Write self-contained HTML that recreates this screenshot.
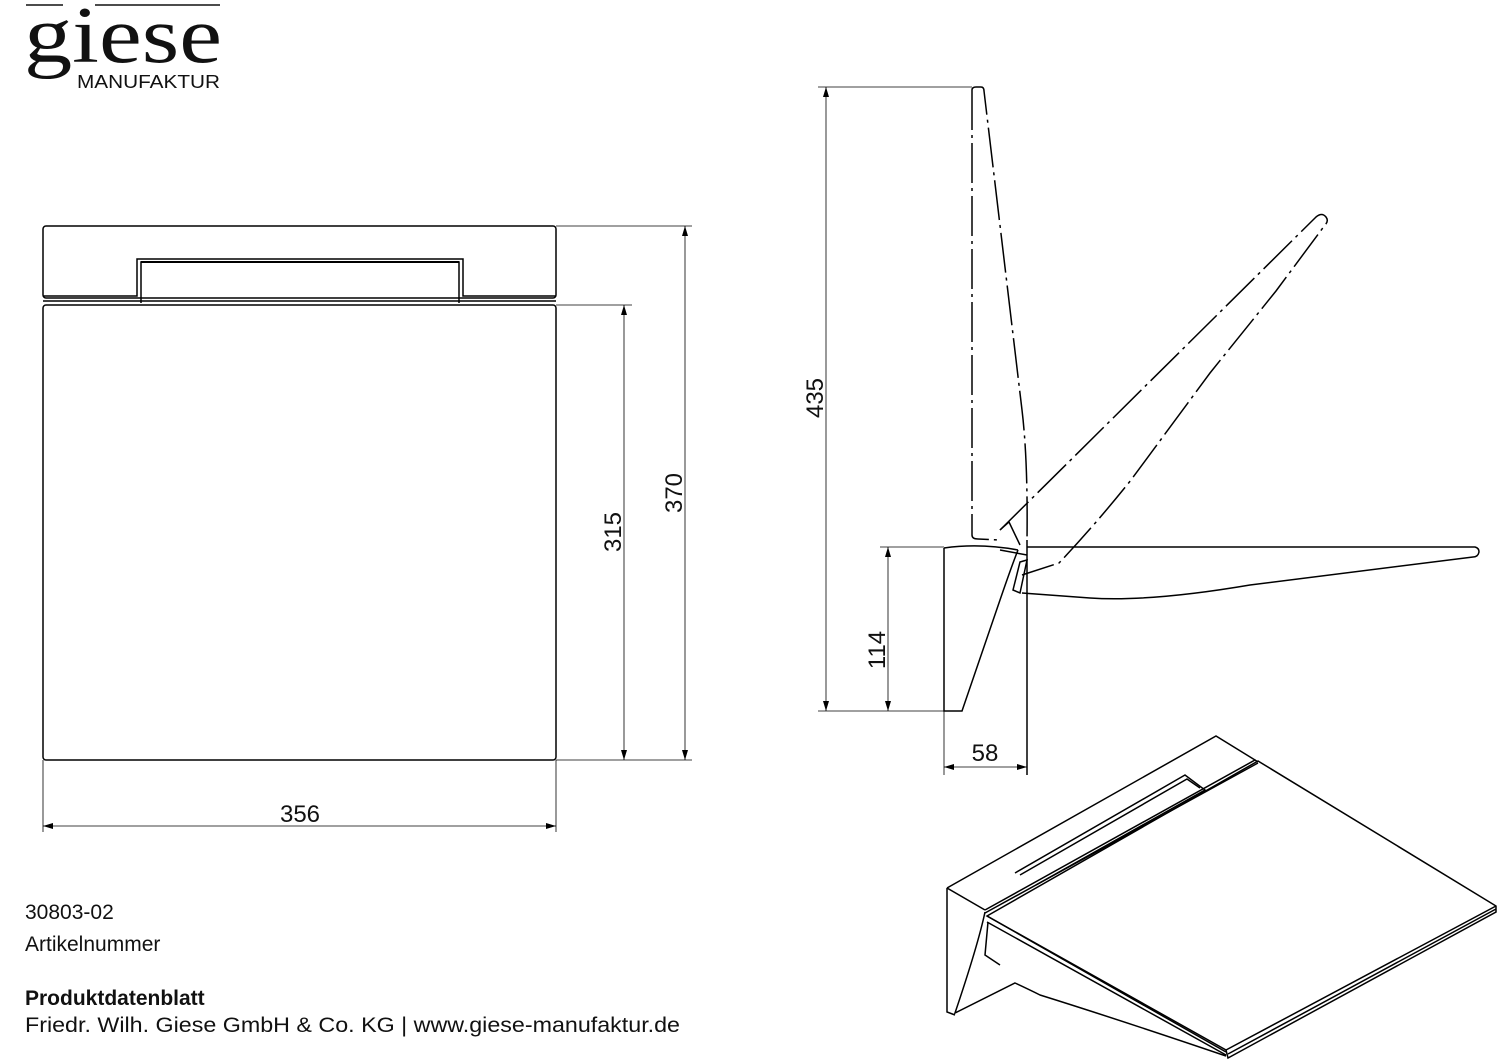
<!DOCTYPE html>
<html><head><meta charset="utf-8"><style>
html,body{margin:0;padding:0;background:#fff;}
svg{display:block;}
text{font-family:"Liberation Sans",sans-serif;fill:#111;}
</style></head><body>
<svg width="1500" height="1061" viewBox="0 0 1500 1061" xmlns="http://www.w3.org/2000/svg">
<defs>
<marker id="a" viewBox="0 0 10 6" refX="10" refY="3" markerWidth="10" markerHeight="6" orient="auto-start-reverse" markerUnits="userSpaceOnUse"><path d="M0,0 L10,3 L0,6 z" fill="#000"/></marker>
</defs>
<!-- logo -->
<line x1="26" y1="5" x2="63" y2="5" stroke="#111" stroke-width="1.5"/>
<line x1="95" y1="5" x2="220" y2="5" stroke="#111" stroke-width="1.5"/>
<text x="24" y="62" style="font-family:'Liberation Serif',serif;font-size:80px;" textLength="198" lengthAdjust="spacingAndGlyphs">giese</text>
<text x="77" y="88" style="font-family:'Liberation Sans',sans-serif;font-size:18px;" textLength="143" lengthAdjust="spacingAndGlyphs">MANUFAKTUR</text>

<g fill="none" stroke="#000" stroke-width="1.5">
<rect x="43" y="226" width="513" height="72" rx="3"/>
<rect x="43" y="305" width="513" height="455" rx="3"/>
<line x1="43" y1="301" x2="556" y2="301"/>
<path d="M43,296 H137 V259 H463 V296 H556"/>
<path d="M141,303 V262 H459 V303"/>
<line x1="141" y1="262" x2="459" y2="262" stroke-width="2"/>
<line x1="556" y1="226" x2="692" y2="226" stroke-width="0.8"/>
<line x1="556" y1="760" x2="692" y2="760" stroke-width="0.8"/>
<line x1="556" y1="305" x2="632" y2="305" stroke-width="0.8"/>
<line x1="685" y1="226" x2="685" y2="760" stroke-width="0.8" marker-start="url(#a)" marker-end="url(#a)"/>
<line x1="624" y1="305" x2="624" y2="760" stroke-width="0.8" marker-start="url(#a)" marker-end="url(#a)"/>
<line x1="43" y1="760" x2="43" y2="832" stroke-width="0.8"/>
<line x1="556" y1="760" x2="556" y2="832" stroke-width="0.8"/>
<line x1="43" y1="826" x2="556" y2="826" stroke-width="0.8" marker-start="url(#a)" marker-end="url(#a)"/>

<path d="M972,90 Q972,87 976,87 H981 Q984,87 984,91 L1022,410 Q1028,460 1027,540" stroke-dasharray="40,5,3,5"/>
<path d="M972,90 V535 Q972,539 978,539 L1000,540" stroke-dasharray="40,5,3,5"/>
<path d="M1000,530 L1316,217 Q1322,212 1326,217 Q1329,221 1325,225 L1276,291 L1210,373 L1131,480 Q1095,525 1059,563 L1022,575" stroke-dasharray="40,5,3,5"/>
<path d="M1000,530 L1009,522 L1020,545"/>
<path d="M1027,547 H1475 Q1479,548 1479,552 Q1478,557 1473,557 L1250,585 Q1150,602 1090,598 L1022,593"/>
<line x1="1027" y1="540" x2="1027" y2="775"/>
<path d="M944,548 Q980,543 1018,550"/>
<path d="M944,548 V711 H962 L1000,600 Q1012,565 1018,550"/>
<line x1="1000" y1="550" x2="1027" y2="555"/>
<path d="M1013,590 L1020,562 L1027,560 L1020,593 z"/>
<line x1="818" y1="87" x2="972" y2="87" stroke-width="0.8"/>
<line x1="818" y1="711" x2="944" y2="711" stroke-width="0.8"/>
<line x1="880" y1="547" x2="944" y2="547" stroke-width="0.8"/>
<line x1="826" y1="87" x2="826" y2="711" stroke-width="0.8" marker-start="url(#a)" marker-end="url(#a)"/>
<line x1="888" y1="547" x2="888" y2="711" stroke-width="0.8" marker-start="url(#a)" marker-end="url(#a)"/>
<line x1="944" y1="711" x2="944" y2="775" stroke-width="0.8"/>
<line x1="944" y1="767" x2="1027" y2="767" stroke-width="0.8" marker-start="url(#a)" marker-end="url(#a)"/>

<path d="M947,888 L1216,736 L1255,760"/>
<path d="M947,888 V1012 L955,1015"/>
<path d="M947,888 L985,910"/>
<path d="M985,910 L1255,760 L1258,762"/>
<path d="M985,913 L1258,763"/>
<path d="M987,916 L1258,761 L1496,906 L1496,912 L1228,1058 L1226,1050 L987,916 z"/>
<path d="M1226,1050 L1496,906"/>
<path d="M1228,1054 L1496,909"/>
<path d="M987,916 L1226,1052"/>
<path d="M987,922 L1226,1055"/>
<path d="M985,912 Q978,945 955,1013 L1015,983 Q1030,990 1040,995 Q1120,1020 1226,1056"/>
<path d="M988,922 L985,955 L1000,965"/>
<path d="M1015,873 L1185,775 L1205,790 L1036,885"/>
<path d="M1020,875 L1187,779 L1200,788"/>
</g>

<text x="300" y="822" font-size="24" text-anchor="middle">356</text>
<text font-size="24" text-anchor="middle" transform="translate(621,532) rotate(-90)">315</text>
<text font-size="24" text-anchor="middle" transform="translate(682,493) rotate(-90)">370</text>
<text font-size="24" text-anchor="middle" transform="translate(823,398) rotate(-90)">435</text>
<text font-size="24" text-anchor="middle" transform="translate(885,650) rotate(-90)">114</text>
<text x="985" y="761" font-size="24" text-anchor="middle">58</text>

<text x="25" y="919" font-size="21">30803-02</text>
<text x="25" y="951" font-size="21">Artikelnummer</text>
<text x="25" y="1005" font-size="21" font-weight="bold">Produktdatenblatt</text>
<text x="25" y="1032" font-size="21" textLength="655" lengthAdjust="spacingAndGlyphs">Friedr. Wilh. Giese GmbH &amp; Co. KG | www.giese-manufaktur.de</text>
</svg>
</body></html>
